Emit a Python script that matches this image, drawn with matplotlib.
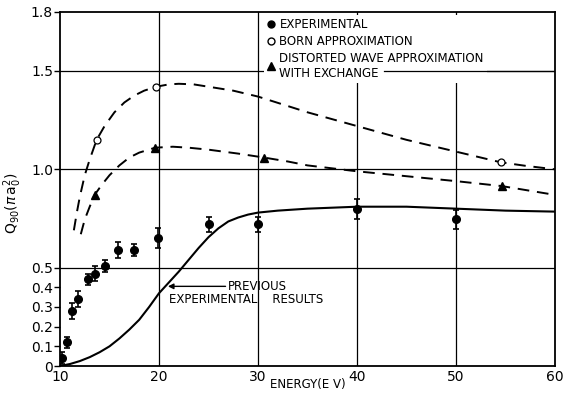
import matplotlib
matplotlib.use("Agg")
import matplotlib.pyplot as plt
from matplotlib.lines import Line2D

plt.rcParams['font.family'] = ['DejaVu Sans']

# Experimental points
exp_E = [10.2, 10.7, 11.2, 11.8, 12.8, 13.5, 14.5, 15.9, 17.5, 19.9, 25.0, 30.0, 40.0, 50.0]
exp_Q = [0.04, 0.12, 0.28, 0.34, 0.44, 0.47, 0.51, 0.59, 0.59, 0.65, 0.72, 0.72, 0.80, 0.745]
exp_err = [0.03, 0.03, 0.04, 0.04, 0.03, 0.04, 0.03, 0.04, 0.03, 0.05, 0.04, 0.04, 0.05, 0.05]

# Previous experimental results (solid curve)
prev_E = [10, 11, 12, 13, 14, 15, 16, 17, 18, 19, 20, 21, 22, 23, 24, 25, 26, 27, 28, 29,
          30, 32, 35, 40, 45, 50, 55, 60]
prev_Q = [0.0, 0.01, 0.025, 0.045, 0.07, 0.10, 0.14, 0.185, 0.235, 0.30, 0.37, 0.425, 0.48,
          0.54, 0.60, 0.655, 0.70, 0.735, 0.755, 0.77, 0.78, 0.79, 0.80, 0.81, 0.81, 0.80,
          0.79, 0.785]

# Born approximation curve and points
born_E = [11.4, 11.7, 12.0, 12.5, 13.0, 13.7, 14.5, 15.5, 16.5, 17.5, 18.5, 19.7, 21.0,
          22.0, 23.5, 25.0, 27.5, 30.0, 32.5, 35.0, 37.5, 40.0, 42.5, 45.0, 47.5, 50.0,
          52.5, 54.5, 57.0, 60.0]
born_Q = [0.69, 0.78, 0.86, 0.97, 1.05, 1.15, 1.22, 1.29, 1.34, 1.375, 1.40, 1.42, 1.432,
          1.435, 1.432, 1.42, 1.40, 1.37, 1.33, 1.29, 1.255, 1.22, 1.185, 1.15, 1.12, 1.09,
          1.06, 1.036, 1.018, 1.0]
born_pts_E = [13.7, 19.7, 54.5]
born_pts_Q = [1.15, 1.42, 1.036]

# Distorted wave approximation with exchange
dw_E = [12.1, 12.5, 13.0, 13.5, 14.2, 15.0, 16.0, 17.0, 18.0, 19.6, 21.4, 23.0, 25.0,
        28.0, 30.6, 33.0, 35.0, 40.0, 45.0, 50.0, 54.6, 57.0, 60.0]
dw_Q = [0.67, 0.745, 0.81, 0.87, 0.92, 0.97, 1.02, 1.06, 1.085, 1.11, 1.115, 1.11, 1.10,
        1.08, 1.06, 1.04, 1.02, 0.99, 0.965, 0.94, 0.915, 0.895, 0.87]
dw_pts_E = [13.5, 19.6, 30.6, 54.6]
dw_pts_Q = [0.87, 1.11, 1.06, 0.915]

x_ticks = [10, 20, 30, 40, 50, 60]
y_ticks = [0, 0.1, 0.2, 0.3, 0.4, 0.5, 1.0, 1.5, 1.8]
y_labels = ["0", "0.1", "0.2", "0.3", "0.4", "0.5", "1.0", "1.5", "1.8"]
grid_x = [20, 30, 40, 50]
grid_y = [0.5, 1.0, 1.5]

fig = plt.figure(figsize=(5.63, 3.96), dpi=100)
ax = fig.add_axes([60/563, 30/396, 495/563, 354/396])

for xv in grid_x:
    ax.axvline(xv, color='black', lw=0.9, zorder=1)
for yv in grid_y:
    ax.axhline(yv, color='black', lw=0.9, zorder=1)

ax.plot(prev_E, prev_Q, color='black', lw=1.5, zorder=3)
ax.plot(born_E, born_Q, color='black', lw=1.4, ls=(0, (6, 4)), zorder=3)
ax.plot(dw_E, dw_Q, color='black', lw=1.4, ls=(0, (6, 4)), zorder=3)

ax.plot(born_pts_E, born_pts_Q, 'o', mfc='white', mec='black', ms=5, mew=0.9, zorder=4)
ax.plot(dw_pts_E, dw_pts_Q, '^', color='black', ms=6, zorder=4)
ax.errorbar(exp_E, exp_Q, yerr=exp_err, fmt='o', color='black', ms=5.5, capsize=2.5,
            elinewidth=1.2, capthick=1.2, zorder=5)

ax.set_xlim(10, 60)
ax.set_ylim(0, 1.8)
ax.set_xticks(x_ticks)
ax.set_yticks(y_ticks)
ax.set_yticklabels(y_labels)
ax.tick_params(axis='x', length=0, pad=3, labelsize=10)
ax.tick_params(axis='y', direction='out', length=4, width=1, pad=1, labelsize=10)
for s in ax.spines.values():
    s.set_linewidth(1.3)

ax.set_xlabel("ENERGY(E V)", fontsize=8.5)
ax.xaxis.set_label_coords(0.5, -0.035)
ax.set_ylabel(r"Q$_{90}$($\pi\,$a$_0^2$)", fontsize=10)
ax.yaxis.set_label_coords(-0.072, 0.46)

# legend
handles = [Line2D([], [], marker='o', ls='none', color='black', ms=5),
           Line2D([], [], marker='o', ls='none', mfc='white', mec='black', ms=5),
           Line2D([], [], marker='^', ls='none', color='black', ms=6)]
labels = ["EXPERIMENTAL", "BORN APPROXIMATION", "DISTORTED WAVE APPROXIMATION\nWITH EXCHANGE"]
leg = ax.legend(handles, labels, loc='upper left', bbox_to_anchor=(0.41, 0.995),
                frameon=True, fontsize=8.5, handlelength=0.6, handletextpad=0.4,
                labelspacing=0.3, borderpad=0.3, borderaxespad=0.1)
leg.get_frame().set_edgecolor('none')
leg.get_frame().set_facecolor('white')
leg.get_frame().set_alpha(1)
leg.set_zorder(6)
# gridline 1.5 resumes after "WITH EXCHANGE"
ax.axhline(1.5, xmin=0.655, xmax=1.0, color='black', lw=0.9, zorder=7)

# annotation
ax.annotate("PREVIOUS", xy=(20.9, 0.405), xytext=(27.0, 0.405),
            fontsize=8.5, va='center', ha='left',
            arrowprops=dict(arrowstyle='-|>', color='black', lw=1.0, mutation_scale=8,
                            shrinkA=0, shrinkB=0))
ax.text(21.0, 0.34, "EXPERIMENTAL    RESULTS", fontsize=8.5, va='center', ha='left')

fig.savefig("out.png", dpi=100)
